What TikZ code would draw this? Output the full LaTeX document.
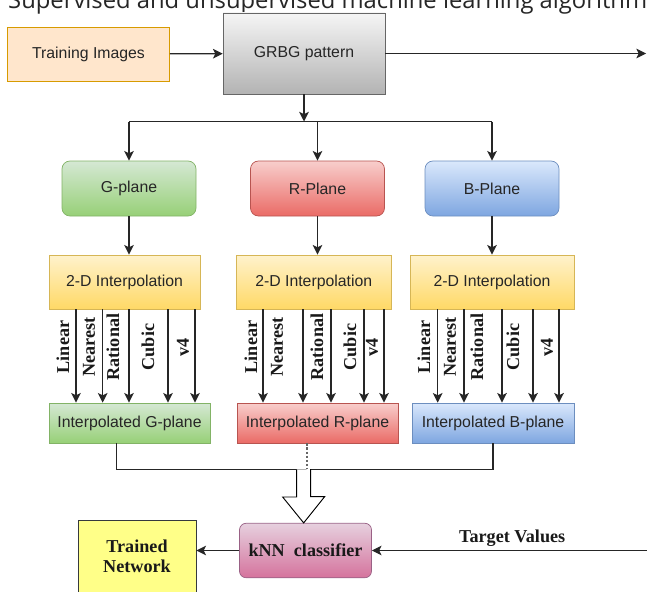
\documentclass[tikz,border=0pt]{standalone}
\usepackage{fontspec}
\setmainfont{Liberation Serif}
\setsansfont{Liberation Sans}
\newfontfamily\titlefont{Open Sans}
\usetikzlibrary{arrows.meta}
\usetikzlibrary{arrows}
\usetikzlibrary{shapes}

\definecolor{trainfill}{HTML}{FFE6CC}
\definecolor{trainline}{HTML}{D79B00}
\definecolor{grbgtop}{HTML}{F5F5F5}
\definecolor{grbgbot}{HTML}{B3B3B3}
\definecolor{grbgline}{HTML}{666666}
\definecolor{gtop}{HTML}{D5E8D4}
\definecolor{gbot}{HTML}{97D077}
\definecolor{gline}{HTML}{82B366}
\definecolor{rtop}{HTML}{F8CECC}
\definecolor{rbot}{HTML}{EA6B66}
\definecolor{rline}{HTML}{B85450}
\definecolor{btop}{HTML}{DAE8FC}
\definecolor{bbot}{HTML}{7EA6E0}
\definecolor{bline}{HTML}{6C8EBF}
\definecolor{ytop}{HTML}{FFF2CC}
\definecolor{ybot}{HTML}{FFD966}
\definecolor{yline}{HTML}{D6B656}
\definecolor{knntop}{HTML}{E6D0DE}
\definecolor{knnbot}{HTML}{D5739D}
\definecolor{knnline}{HTML}{996185}
\definecolor{tnfill}{HTML}{FFFF88}
\definecolor{tnline}{HTML}{36393D}

\tikzset{
  box/.style = {rectangle, draw, line width = 0.6pt, inner sep = 0pt, text = black!85,
    font = \sffamily\fontsize{13.5}{16}\selectfont},
  bold/.style = {text = black!90, font = \rmfamily\bfseries\fontsize{15.5}{17}\selectfont},
  plane/.style = {box, rounded corners = 0.24cm, minimum width = 4.02cm, minimum height = 1.65cm},
  interp/.style = {box, draw = yline, top color = ytop, bottom color = ybot, minimum height = 1.62cm},
  result/.style = {box, minimum height = 1.2cm},
  lbl/.style = {bold, rotate = 90, inner sep = 0pt},
  link/.style = {line width = 1pt, draw = black!85},
}

\begin{document}
\begin{tikzpicture}[>={Stealth[length=2.9mm, width=2.9mm, inset=0.7mm]}]
\useasboundingbox (0,0) rectangle (19.41,-17.73);
\clip (0,0) rectangle (19.41,-17.73);
\draw (0.24,-0.255) node[anchor = base west, inner sep = 0pt, text = black!85, font = \titlefont\fontsize{20.3}{24}\selectfont, name = title]{Supervised and unsupervised machine learning algorithm};

% input side
\draw (2.655,-1.62) node[box, draw = trainline, fill = trainfill, minimum width = 4.86cm, minimum height = 1.62cm, name = train]{Training Images};
\draw (9.12,-1.605) node[box, draw = grbgline, top color = grbgtop, bottom color = grbgbot, minimum width = 4.86cm, minimum height = 2.43cm, name = grbg]{GRBG pattern};
\coordinate (out) at (19.38,-1.605);
\coordinate (split) at (9.12,-3.645);
\draw[link, ->] (train) -- (grbg);
\draw[link, ->] (grbg) -- (out);
\draw[link, ->] (grbg) -- (split);

% colour planes
\draw (3.87,-5.655) node[plane, draw = gline, top color = gtop, bottom color = gbot, name = gp]{G-plane};
\draw (gp) + (5.655,0) node[plane, draw = rline, top color = rtop, bottom color = rbot, name = rp]{R-Plane};
\draw (rp) + (5.235,0) node[plane, draw = bline, top color = btop, bottom color = bbot, name = bp]{B-Plane};
\draw[link] (gp.north |- split) -- (bp.north |- split);
\draw[link, ->] (gp.north |- split) -- (gp);
\draw[link, ->] (rp.north |- split) -- (rp);
\draw[link, ->] (bp.north |- split) -- (bp);

% interpolation
\draw (3.735,-8.46) node[interp, minimum width = 4.53cm, name = gi]{2-D Interpolation};
\draw (9.4125,-8.46) node[interp, minimum width = 4.635cm, name = ri]{2-D Interpolation};
\draw (14.76,-8.46) node[interp, minimum width = 4.92cm, name = bi]{2-D Interpolation};
\draw[link, ->] (gp) -- (gp |- gi.north);
\draw[link, ->] (rp) -- (rp |- ri.north);
\draw[link, ->] (bp) -- (bp |- bi.north);

\draw (3.885,-12.69) node[result, draw = gline, top color = gtop, bottom color = gbot, minimum width = 4.83cm, name = gr]{Interpolated G-plane};
\draw (9.525,-12.69) node[result, draw = rline, top color = rtop, bottom color = rbot, minimum width = 4.83cm, name = rr]{Interpolated R-plane};
\draw (14.79,-12.69) node[result, draw = bline, top color = btop, bottom color = bbot, minimum width = 4.86cm, name = br]{Interpolated B-plane};

% methods, G
\draw[link, ->] (gi.south -| 2.28,0) -- (gr.north -| 2.28,0);
\draw[link, ->] (gi.south -| 3.08,0) -- (gr.north -| 3.08,0);
\draw[link, ->] (gi.south -| 3.87,0) -- (gr.north -| 3.87,0);
\draw[link, ->] (gi.south -| 5.04,0) -- (gr.north -| 5.04,0);
\draw[link, ->] (gi.south -| 5.85,0) -- (gr.north -| 5.85,0);
\draw (1.89,-10.41) node[lbl, name = gl1]{Linear};
\draw (2.67,-10.41) node[lbl, name = gl2]{Nearest};
\draw (3.39,-10.41) node[lbl, name = gl3]{Rational};
\draw (4.44,-10.41) node[lbl, name = gl4]{Cubic};
\draw (5.49,-10.41) node[lbl, name = gl5]{v4};

% methods, R
\draw[link, ->] (ri.south -| 7.89,0) -- (rr.north -| 7.89,0);
\draw[link, ->] (ri.south -| 9.09,0) -- (rr.north -| 9.09,0);
\draw[link, ->] (ri.south -| 9.93,0) -- (rr.north -| 9.93,0);
\draw[link, ->] (ri.south -| 10.92,0) -- (rr.north -| 10.92,0);
\draw[link, ->] (ri.south -| 11.52,0) -- (rr.north -| 11.52,0);
\draw (7.53,-10.41) node[lbl, name = rl1]{Linear};
\draw (8.31,-10.41) node[lbl, name = rl2]{Nearest};
\draw (9.51,-10.41) node[lbl, name = rl3]{Rational};
\draw (10.5,-10.41) node[lbl, name = rl4]{Cubic};
\draw (11.16,-10.41) node[lbl, name = rl5]{v4};

% methods, B
\draw[link, ->] (bi.south -| 13.13,0) -- (br.north -| 13.13,0);
\draw[link, ->] (bi.south -| 13.92,0) -- (br.north -| 13.92,0);
\draw[link, ->] (bi.south -| 15.06,0) -- (br.north -| 15.06,0);
\draw[link, ->] (bi.south -| 15.99,0) -- (br.north -| 15.99,0);
\draw[link, ->] (bi.south -| 16.77,0) -- (br.north -| 16.77,0);
\draw (12.72,-10.41) node[lbl, name = bl1]{Linear};
\draw (13.5,-10.41) node[lbl, name = bl2]{Nearest};
\draw (14.31,-10.41) node[lbl, name = bl3]{Rational};
\draw (15.39,-10.41) node[lbl, name = bl4]{Cubic};
\draw (16.41,-10.41) node[lbl, name = bl5]{v4};

% classifier
\draw (9.165,-16.515) node[box, bold, rounded corners = 0.2cm, draw = knnline, top color = knntop, bottom color = knnbot, minimum width = 3.96cm, minimum height = 1.635cm, name = knn]{kNN\ \ classifier};
\draw (4.11,-16.68) node[box, bold, draw = tnline, fill = tnfill, align = center, minimum width = 3.54cm, minimum height = 2.16cm, name = tn]{Trained\\Network};
\coordinate (join) at (9.11,-14.085);
\coordinate (tgt) at (19.41,-16.515);
\draw[link] (gr.south -| 3.49,0) |- (join) -| (br);
\draw[link, draw = black!60, dash pattern = on 2pt off 1.5pt] (rr.south -| 9.21,0) -- (join -| 9.21,0);
\draw[line width = 0.8pt, fill = white] (join) ++(-0.21,0) -- ++(0,-0.825) -- ++(-0.42,0) -- (knn.north -| join) -- ++(0.63,0.7875) -- ++(-0.42,0) -- ++(0,0.825);
\draw[link, ->] (knn) -- (knn.west -| tn.east);
\draw[link, ->] (tgt) -- (knn) node[bold, pos = 0.49, above, name = tv]{Target Values};
\end{tikzpicture}
\end{document}
